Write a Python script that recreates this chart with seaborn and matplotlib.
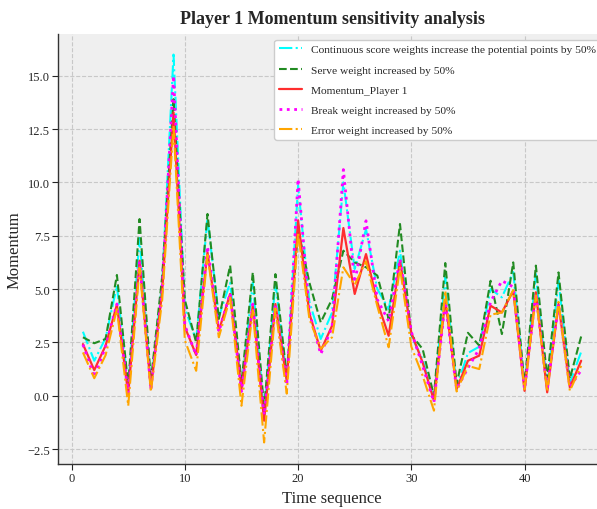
import numpy as np
import pandas as pd
import seaborn as sns
import matplotlib.pyplot as plt

# time steps 1..45
time_seq = list(range(1, 46))

momentum_p1 = [2.42, 1.20, 2.35, 4.27, 0.08, 6.33, 0.31, 4.90, 13.28, 3.22,
               1.91, 6.72, 3.05, 4.77, 0.31, 4.22, -1.17, 4.30, 0.70, 8.22,
               3.85, 2.11, 3.28, 7.86, 4.77, 6.64, 4.38, 2.81, 6.33, 2.95,
               1.56, -0.23, 4.50, 0.31, 1.64, 1.88, 4.22, 3.90, 4.92, 0.23,
               4.85, 0.16, 4.30, 0.39, 1.64]
serve_w = [2.74, 2.46, 2.66, 5.66, 0.47, 8.28, 0.70, 5.60, 13.90, 4.49,
           2.50, 8.52, 3.60, 6.10, 0.60, 5.78, -0.60, 5.70, 0.90, 7.80,
           5.30, 3.44, 4.53, 6.80, 6.25, 6.02, 5.63, 3.60, 8.05, 2.85,
           2.19, 0.00, 6.22, 0.55, 2.95, 2.35, 5.39, 2.89, 6.25, 0.50,
           6.10, 0.80, 5.78, 0.80, 2.78]
cont_w = [3.00, 1.64, 2.70, 5.16, 0.40, 7.40, 0.50, 5.30, 15.99, 4.10,
          2.60, 8.30, 3.70, 5.30, 0.40, 5.30, -0.80, 5.30, 0.80, 9.85,
          4.40, 2.66, 3.90, 10.00, 5.94, 7.80, 5.00, 4.06, 6.80, 2.80,
          1.70, -0.15, 5.55, 0.40, 2.00, 2.30, 5.00, 4.61, 5.80, 0.40,
          5.70, 0.40, 5.40, 0.60, 2.06]
break_w = [2.40, 0.87, 2.30, 4.30, 0.10, 6.30, 0.30, 5.00, 15.00, 3.30,
           1.90, 7.00, 3.00, 4.80, 0.20, 4.30, -0.90, 4.30, 0.50, 10.16,
           3.90, 1.95, 3.20, 10.60, 5.30, 8.20, 4.50, 3.50, 6.40, 3.00,
           1.40, -0.30, 4.40, 0.30, 1.30, 2.20, 4.40, 5.39, 5.10, 0.30,
           4.80, 0.30, 4.30, 0.40, 1.20]
error_w = [2.03, 0.82, 1.90, 4.06, -0.47, 6.00, 0.20, 4.50, 12.66, 2.60,
           1.17, 6.60, 2.74, 4.60, -0.47, 4.00, -2.19, 4.10, 0.10, 7.66,
           3.60, 2.20, 2.74, 6.02, 5.20, 6.30, 4.20, 2.27, 6.00, 2.30,
           0.94, -0.70, 4.92, 0.20, 1.40, 1.25, 3.80, 3.90, 4.95, 0.30,
           4.70, 0.20, 4.40, 0.23, 1.40]

series = [
    ("Continuous score weights increase the potential points by 50%", cont_w, "cyan", "-.", 1.5),
    ("Serve weight increased by 50%", serve_w, "forestgreen", "--", 1.5),
    ("Momentum_Player 1", momentum_p1, "#ff2e2e", "-", 1.6),
    ("Break weight increased by 50%", break_w, "magenta", ":", 2.0),
    ("Error weight increased by 50%", error_w, "orange", "-.", 1.5),
]

sns.set_style("whitegrid", {"axes.facecolor": "#efefef", "grid.linestyle": "--",
                            "grid.color": "#c8c8c8", "axes.edgecolor": "#333333"})
plt.rcParams["font.family"] = ["Liberation Serif", "DejaVu Serif"]

fig = plt.figure(figsize=(5.97, 5.10), dpi=100)
ax = fig.add_axes([0.0972, 0.0882, 0.918, 0.843])

for name, vals, col, ls, lw in series:
    df = pd.DataFrame({"t": time_seq, "v": vals})
    sns.lineplot(data=df, x="t", y="v", color=col, linestyle=ls, linewidth=lw,
                 label=name, ax=ax)

ax.set_xlim(-1.2, 47.2)
ax.set_ylim(-3.2, 16.95)
ax.set_yticks([-2.5, 0.0, 2.5, 5.0, 7.5, 10.0, 12.5, 15.0])
ax.set_xticks([0, 10, 20, 30, 40])
ax.tick_params(axis="both", labelsize=9, length=4, width=0.8, pad=2, left=True, bottom=True)
ax.grid(True, linestyle="--", linewidth=0.8, color="#c8c8c8")
sns.despine(ax=ax, top=True, right=True)
ax.spines["left"].set_linewidth(1.0)
ax.spines["bottom"].set_linewidth(1.0)

ax.set_title("Player 1 Momentum sensitivity analysis", fontsize=13, fontweight="bold", pad=8)
ax.set_xlabel("Time sequence", fontsize=12)
ax.set_ylabel("Momentum", fontsize=12, labelpad=3)
ax.legend(loc="upper right", fontsize=8.2, labelspacing=0.9, frameon=True,
          facecolor="white", edgecolor="#cccccc", framealpha=1.0)

plt.savefig("out.png", dpi=100)
